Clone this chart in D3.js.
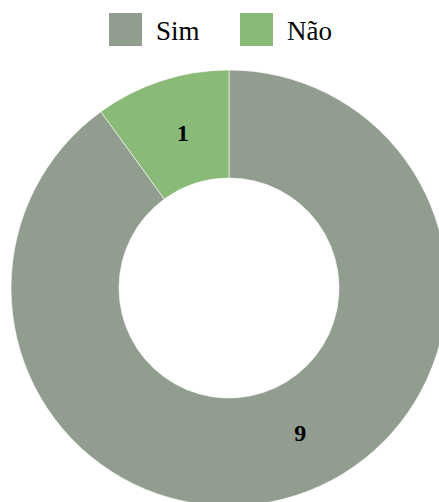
<!DOCTYPE html>
<html>
<head>
<meta charset="utf-8">
<script src="https://cdn.jsdelivr.net/npm/d3@7"></script>
<style>
  html, body { margin: 0; padding: 0; background: #fff; }
  svg { display: block; }
</style>
</head>
<body>
<svg id="chart" width="439" height="502"></svg>
<script>
// Responses and their counts
const categories = ["Sim", "Não"];
const values = [9, 1];
const colors = ["#919d8f", "#8aba77"];

const svg = d3.select("#chart");
const cx = 229, cy = 288;
const outerR = 218, innerR = 110;

const color = d3.scaleOrdinal().domain(categories).range(colors);

const pie = d3.pie().sort(null).value(d => d.value);
const data = categories.map((c, i) => ({ name: c, value: values[i] }));
const arcs = pie(data);

const arc = d3.arc().innerRadius(innerR).outerRadius(outerR);

const g = svg.append("g").attr("transform", `translate(${cx},${cy})`);

g.selectAll("path")
  .data(arcs)
  .join("path")
  .attr("d", arc)
  .attr("fill", d => color(d.data.name))
  .attr("stroke", "#ffffff")
  .attr("stroke-width", 0.6);

// Value labels inside each slice
const labelArc = d3.arc().innerRadius(162).outerRadius(162);
g.selectAll("text.val")
  .data(arcs)
  .join("text")
  .attr("class", "val")
  .attr("transform", d => {
    const mid = d.startAngle + (d.endAngle - d.startAngle) * (d.data.name === "Sim" ? 0.475 : 0.54);
    const [x, y] = labelArc.centroid({ startAngle: mid, endAngle: mid });
    return `translate(${x},${y})`;
  })
  .attr("text-anchor", "middle")
  .attr("dominant-baseline", "central")
  .attr("font-family", "'Liberation Serif', 'Times New Roman', serif")
  .attr("font-weight", "bold")
  .attr("font-size", 24)
  .attr("fill", "#000")
  .text(d => d.data.value);

// Legend
const legendX = [109, 240];
const legend = svg.selectAll("g.legend")
  .data(categories)
  .join("g")
  .attr("class", "legend")
  .attr("transform", (d, i) => `translate(${legendX[i]},13)`);

legend.append("rect")
  .attr("width", 33)
  .attr("height", 33)
  .attr("fill", d => color(d));

legend.append("text")
  .attr("x", 47)
  .attr("y", 27)
  .attr("font-family", "'Liberation Serif', 'Times New Roman', serif")
  .attr("font-size", 27)
  .attr("fill", "#000")
  .text(d => d);
</script>
</body>
</html>
